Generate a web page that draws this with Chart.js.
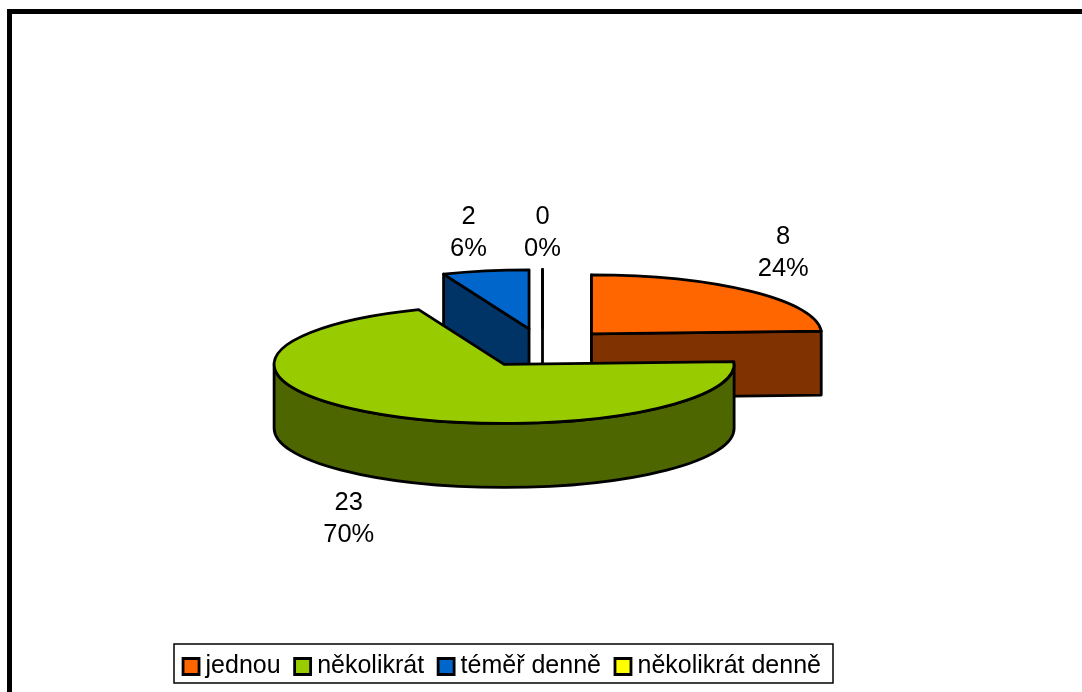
<!DOCTYPE html>
<html lang="cs">
<head>
<meta charset="utf-8">
<style>html,body{margin:0;padding:0;background:#fff}canvas{display:block}</style>
<script src="https://cdn.jsdelivr.net/npm/chart.js@4/dist/chart.umd.js"></script>
</head>
<body>
<div style="width:1082px;height:692px;position:relative"><canvas id="c"></canvas></div>
<script>
const categories = ['jednou', 'několikrát', 'téměř denně', 'několikrát denně'];
const counts = [8, 23, 2, 0];
const topColors = ['#FF6600', '#99CC00', '#0066CC', '#FFFF00'];
const sideColors = ['#803300', '#4D6600', '#003366', '#808000'];

const FONT = '"Liberation Sans", Arial, sans-serif';
const view = { cx: 542.5, cy: 348, squash: 0.2565, depth: 64, explodeX: 71, explodeY: 19.5, line: 2.8 };
const labelNudges = [[33, -38], [-31, 105], [-17, -38], [0, -37]];

const pie3d = {
  id: 'pie3d',
  beforeDraw(chart) {
    const c = chart.ctx;
    c.save();
    c.fillStyle = '#fff';
    c.fillRect(0, 0, chart.width, chart.height);
    c.fillStyle = '#000';
    c.fillRect(7, 9, chart.width - 7, 5);
    c.fillRect(7, 9, 5, chart.height - 9);
    c.restore();
  },
  beforeDatasetsDraw(chart) {
    const c = chart.ctx;
    const arcs = chart.getDatasetMeta(0).data;
    const total = counts.reduce((a, b) => a + b, 0);
    const s = view.squash;
    const slices = arcs.map((el, i) => {
      const mid = (el.startAngle + el.endAngle) / 2;
      return {
        el, i, mid,
        x: view.cx + view.explodeX * Math.cos(mid),
        y: view.cy + view.explodeY * Math.sin(mid),
        r: el.outerRadius
      };
    }).sort((a, b) => a.y - b.y);

    c.save();
    c.lineWidth = view.line;
    c.strokeStyle = '#000';
    c.lineJoin = 'round';

    slices.forEach(({ el, i, x, y, r }) => {
      const a0 = el.startAngle, a1 = el.endAngle;
      const wall = ang => {
        const px = x + r * Math.cos(ang), py = y + r * s * Math.sin(ang);
        c.beginPath();
        c.moveTo(x, y);
        c.lineTo(px, py);
        c.lineTo(px, py + view.depth);
        c.lineTo(x, y + view.depth);
        c.closePath();
        c.fillStyle = sideColors[i];
        c.fill();
        c.stroke();
      };
      // radial cut faces that look towards the viewer
      if (Math.cos(a0) < 1e-6) wall(a0);
      if (Math.cos(a1) > 1e-6) wall(a1);
      // outer rim
      const v0 = Math.max(a0, 0), v1 = Math.min(a1, Math.PI);
      if (v1 > v0) {
        c.beginPath();
        c.ellipse(x, y, r, r * s, 0, v0, v1);
        c.ellipse(x, y + view.depth, r, r * s, 0, v1, v0, true);
        c.closePath();
        c.fillStyle = sideColors[i];
        c.fill();
        c.stroke();
      }
      // top face: the library's own arc element, flattened and moved
      c.save();
      c.translate(x, y);
      c.scale(1, s);
      c.translate(-el.x, -el.y);
      el.draw(c);
      c.restore();
      c.beginPath();
      c.moveTo(x, y);
      c.ellipse(x, y, r, r * s, 0, a0, a1);
      c.closePath();
      c.stroke();
    });

    c.fillStyle = '#000';
    c.font = '25.5px ' + FONT;
    c.textAlign = 'center';
    c.textBaseline = 'middle';
    slices.forEach(({ i, x, y, r, mid }) => {
      const tx = x + r * Math.cos(mid) + labelNudges[i][0];
      const ty = y + r * s * Math.sin(mid) + labelNudges[i][1];
      c.fillText(String(counts[i]), tx, ty - 16);
      c.fillText(Math.round(100 * counts[i] / total) + '%', tx, ty + 16);
    });
    c.restore();
    return false;
  },
  afterDraw(chart) {
    const c = chart.ctx;
    c.save();
    c.strokeStyle = '#000';
    c.lineWidth = 1.5;
    c.strokeRect(174, 644, 659, 39);
    c.restore();
  }
};

new Chart(document.getElementById('c'), {
  type: 'pie',
  data: {
    labels: categories,
    datasets: [{
      data: counts,
      backgroundColor: topColors,
      borderWidth: 0,
      hoverOffset: 0
    }]
  },
  plugins: [pie3d],
  options: {
    responsive: true,
    maintainAspectRatio: false,
    animation: false,
    events: [],
    radius: 230,
    layout: { padding: { left: 0, right: 72, top: 0, bottom: 3 } },
    plugins: {
      tooltip: { enabled: false },
      title: { display: false },
      legend: {
        display: true,
        position: 'bottom',
        labels: {
          color: '#000',
          font: { family: FONT, size: 25 },
          usePointStyle: true,
          boxWidth: 4,
          boxHeight: 16,
          padding: 20,
          generateLabels(chart) {
            const base = Chart.overrides.doughnut.plugins.legend.labels.generateLabels(chart);
            return base.map((it, i) => Object.assign(it, {
              pointStyle: 'rect',
              fillStyle: topColors[i],
              strokeStyle: '#000',
              lineWidth: 2.8,
              hidden: false
            }));
          }
        }
      }
    }
  }
});
</script>
</body>
</html>
